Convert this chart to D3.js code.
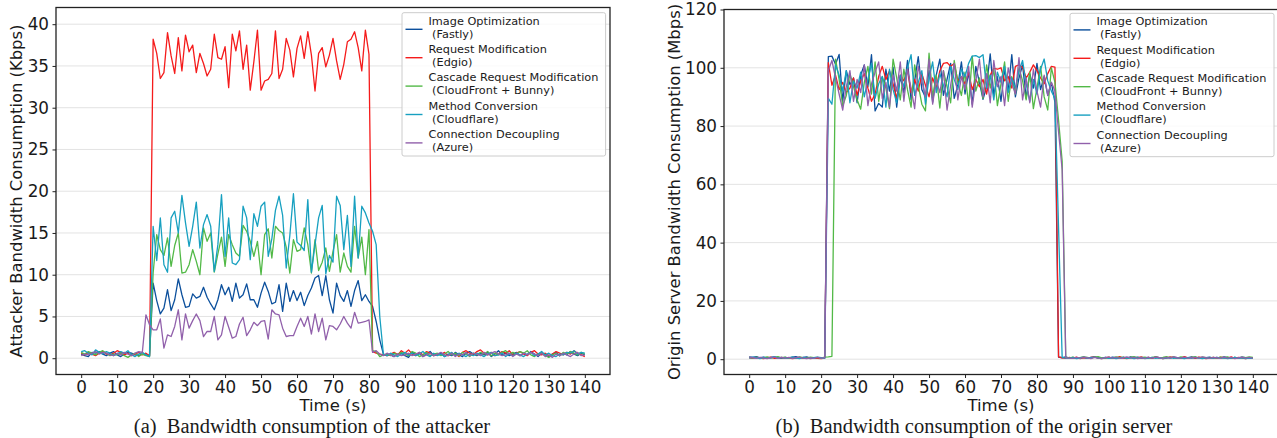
<!DOCTYPE html>
<html>
<head>
<meta charset="utf-8">
<script src="https://cdn.jsdelivr.net/npm/d3@7"></script>
<style>
  body { margin: 0; background: #fff; }
  svg text { font-family: "DejaVu Sans", sans-serif; fill: #1a1a1a; }
  .caption { font-family: "Liberation Serif", "Times New Roman", serif; white-space: pre; }
  .leg { white-space: pre; }
</style>
</head>
<body>
<svg id="chart" width="1277" height="438"></svg>
<script>
// time axis, one sample per second from 0 to 140 s
const TIME_S = d3.range(0, 141);
const X_TICKS = [0, 10, 20, 30, 40, 50, 60, 70, 80, 90, 100, 110, 120, 130, 140];
const ATK_Y_TICKS = [0, 5, 10, 15, 20, 25, 30, 35, 40];
const ORG_Y_TICKS = [0, 20, 40, 60, 80, 100, 120];

const LEGEND_LABELS = [
  ["Image Optimization", " (Fastly)"],
  ["Request Modification", " (Edgio)"],
  ["Cascade Request Modification", " (CloudFront + Bunny)"],
  ["Method Conversion", " (Cloudflare)"],
  ["Connection Decoupling", " (Azure)"]
];

// (a) attacker bandwidth, Kbps  (rows of 10 seconds)
const ATK_FASTLY = [
  0.5, 0.3, 0.2, 0.7, 0.6, 0.8, 0.5, 0.3, 0.6, 0.8,
  0.4, 0.2, 0.5, 0.7, 0.6, 0.4, 0.3, 0.5, 0.4, 0.3,
  9.0, 6.9, 5.3, 6.0, 8.2, 5.7, 7.0, 9.5, 7.6, 6.1,
  6.2, 7.7, 7.2, 7.4, 8.5, 7.3, 6.5, 5.8, 7.0, 8.8,
  7.6, 8.5, 6.8, 9.0, 7.2, 7.6, 8.9, 7.0, 7.0, 6.1,
  7.8, 9.1, 8.0, 6.5, 6.7, 8.8, 5.6, 9.0, 6.8, 8.1,
  6.9, 7.9, 6.3, 7.5, 8.4, 9.6, 9.9, 7.5, 9.9, 7.0,
  5.4, 9.0, 7.5, 6.8, 8.1, 6.2, 8.1, 9.3, 6.9, 7.6,
  6.8, 6.2, 4.4, 2.2, 0.5, 0.3, 0.4, 0.2, 0.5, 0.6,
  0.3, 0.1, 0.7, 0.4, 0.6, 0.2, 0.5, 0.8, 0.3, 0.4,
  0.6, 0.2, 0.5, 0.3, 0.7, 0.4, 0.2, 0.6, 0.8, 0.5,
  0.3, 0.6, 0.4, 0.7, 0.2, 0.5, 0.9, 0.4, 0.6, 0.3,
  0.5, 0.7, 0.3, 0.6, 0.4, 0.8, 0.5, 0.2, 0.6, 0.4,
  0.2, 0.5, 0.7, 0.3, 0.6, 0.4, 0.8, 0.5, 0.3, 0.6,
  0.4
];
const ATK_EDGIO = [
  0.6, 0.4, 0.7, 0.5, 0.3, 0.6, 0.8, 0.5, 0.4, 0.6,
  0.9, 0.7, 0.4, 0.6, 0.3, 0.5, 0.7, 0.4, 0.6, 0.3,
  38.2, 36.5, 33.5, 34.2, 39.0, 36.2, 34.1, 38.4, 34.4, 38.7,
  36.7, 37.5, 34.2, 36.5, 35.3, 33.8, 34.6, 38.8, 36.0, 35.8,
  37.3, 32.4, 38.8, 36.8, 39.2, 34.6, 37.5, 32.1, 35.5, 39.3,
  32.1, 33.2, 33.4, 34.1, 39.2, 33.5, 34.6, 38.3, 36.9, 33.7,
  37.1, 38.6, 35.9, 39.1, 36.3, 32.0, 36.5, 37.2, 34.9, 36.3,
  38.3, 35.6, 33.4, 35.2, 37.9, 38.2, 39.1, 37.2, 34.4, 39.3,
  36.4, 0.8, 0.6, 0.5, 0.4, 0.3, 0.5, 0.7, 0.4, 0.9,
  0.6, 1.0, 0.5, 0.3, 0.7, 0.4, 0.8, 0.6, 0.3, 0.5,
  0.4, 0.7, 0.3, 0.6, 0.5, 0.2, 0.7, 0.9, 0.6, 0.4,
  0.8, 1.0, 0.6, 0.4, 0.7, 0.3, 0.5, 0.8, 0.6, 0.9,
  0.4, 0.6, 0.8, 0.5, 0.3, 0.7, 0.9, 0.5, 0.4, 0.6,
  0.3, 0.5, 0.8, 0.6, 0.4, 0.7, 0.5, 0.9, 0.6, 0.4,
  0.2
];
const ATK_CASCADE = [
  0.7, 0.5, 0.8, 0.6, 0.4, 0.7, 0.9, 0.6, 0.3, 0.5,
  0.4, 0.6, 0.3, 0.1, 0.4, 0.6, 0.2, 0.5, 0.3, 0.2,
  10.2, 14.8, 13.0, 12.3, 14.4, 11.0, 13.5, 15.0, 10.2, 10.3,
  11.2, 13.0, 11.6, 10.0, 15.6, 14.0, 15.0, 10.3, 12.5, 14.5,
  11.0, 14.8, 13.6, 12.6, 12.2, 15.9, 15.2, 14.0, 12.2, 14.0,
  10.0, 14.8, 15.5, 12.0, 15.8, 15.3, 15.0, 13.3, 10.2, 14.2,
  12.8, 13.0, 15.6, 13.6, 10.2, 14.2, 10.5, 11.5, 13.2, 10.4,
  12.8, 14.8, 10.3, 12.6, 11.0, 10.3, 15.8, 12.0, 14.5, 10.0,
  15.4, 0.9, 0.8, 0.2, 0.4, 0.5, 0.3, 0.6, 0.4, 0.7,
  0.5, 0.3, 0.8, 0.6, 0.2, 0.4, 0.7, 0.3, 0.5, 0.6,
  0.3, 0.5, 0.8, 0.4, 0.6, 0.3, 0.7, 0.5, 0.2, 0.6,
  0.4, 0.7, 0.5, 0.8, 0.3, 0.6, 0.4, 0.7, 0.9, 0.5,
  0.7, 0.5, 0.8, 0.6, 0.9, 0.4, 0.2, 0.5, 0.7, 0.3,
  0.1, 0.4, 0.6, 0.3, 0.7, 0.5, 0.8, 0.6, 0.4, 0.7,
  0.5
];
const ATK_CLOUDFLARE = [
  0.8, 0.9, 0.6, 0.4, 1.0, 0.7, 0.5, 0.8, 0.6, 0.3,
  0.5, 0.8, 0.6, 0.9, 0.4, 0.2, 0.5, 0.7, 0.4, 0.2,
  15.8, 11.7, 16.8, 11.2, 10.3, 16.8, 17.6, 15.0, 19.5, 16.2,
  13.4, 15.8, 18.7, 13.2, 16.0, 17.2, 15.8, 10.4, 13.6, 19.6,
  12.2, 16.8, 11.4, 11.2, 11.8, 18.2, 16.8, 11.8, 17.3, 15.8,
  18.2, 18.7, 12.2, 14.3, 17.7, 19.4, 17.1, 10.8, 14.7, 19.7,
  13.9, 13.5, 12.9, 19.0, 10.3, 13.6, 16.8, 18.3, 10.1, 12.3,
  11.5, 19.4, 18.3, 13.0, 17.1, 11.0, 19.4, 12.0, 18.2, 17.4,
  16.2, 15.2, 13.6, 5.0, 0.5, 0.3, 0.6, 0.4, 0.2, 0.5,
  0.7, 0.4, 0.6, 0.3, 0.5, 0.8, 0.4, 0.2, 0.6, 0.3,
  0.5, 0.2, 0.4, 0.7, 0.3, 0.6, 0.4, 0.2, 0.5, 0.3,
  0.6, 0.4, 0.2, 0.5, 0.7, 0.3, 0.4, 0.6, 0.2, 0.5,
  0.3, 0.6, 0.4, 0.2, 0.5, 0.7, 0.3, 0.5, 0.8, 0.4,
  0.6, 0.3, 0.2, 0.5, 0.4, 0.7, 0.6, 0.9, 0.5, 0.7,
  0.6
];
const ATK_AZURE = [
  0.3, 0.5, 0.4, 0.6, 0.8, 0.5, 0.7, 0.6, 0.4, 0.3,
  0.6, 0.4, 0.7, 0.5, 0.3, 0.6, 0.8, 0.7, 5.2, 4.0,
  3.4, 3.4, 4.7, 1.2, 2.8, 2.6, 3.8, 5.8, 2.2, 5.3,
  3.6, 4.5, 5.3, 4.5, 2.6, 3.2, 3.2, 5.0, 2.2, 2.8,
  5.0, 3.7, 2.4, 2.6, 4.1, 4.9, 2.7, 3.4, 4.3, 3.9,
  4.4, 4.5, 2.3, 5.8, 5.3, 5.2, 3.6, 2.6, 2.7, 2.7,
  3.8, 4.8, 3.8, 5.0, 2.9, 5.3, 3.2, 4.8, 2.2, 3.9,
  3.8, 3.4, 4.1, 5.0, 4.2, 3.6, 5.5, 4.2, 4.3, 4.4,
  4.6, 0.7, 0.9, 0.5, 0.3, 0.6, 0.4, 0.2, 0.5, 0.3,
  0.4, 0.6, 0.3, 0.5, 0.7, 0.2, 0.4, 0.6, 0.3, 0.5,
  0.7, 0.4, 0.3, 0.6, 0.2, 0.5, 0.4, 0.7, 0.3, 0.6,
  0.5, 0.3, 0.7, 0.4, 0.6, 0.8, 0.5, 0.3, 0.4, 0.6,
  0.2, 0.5, 0.3, 0.6, 0.4, 0.7, 0.5, 0.3, 0.6, 0.2,
  0.4, 0.1, 0.5, 0.3, 0.6, 0.4, 0.2, 0.5, 0.7, 0.3,
  0.4
];

// (b) origin server bandwidth, Mbps  (rows of 10 seconds)
const ORG_FASTLY = [
  0.8, 0.6, 0.9, 0.5, 0.7, 0.4, 0.6, 0.8, 0.5, 0.3,
  0.6, 0.4, 0.7, 0.9, 0.5, 0.6, 0.8, 0.4, 0.3, 0.5,
  0.4, 0.6, 103.8, 104.0, 101.2, 104.6, 88.5, 99.0, 94.2, 96.5,
  88.0, 97.5, 101.0, 93.5, 104.5, 85.2, 87.8, 86.5, 99.5, 92.0,
  100.2, 86.5, 97.0, 91.5, 102.5, 89.0, 95.5, 103.8, 92.5, 90.0,
  99.0, 88.2, 97.5, 103.0, 90.5, 96.0, 101.5, 89.5, 94.0, 102.0,
  91.0, 98.5, 87.5, 100.5, 95.0, 89.2, 93.5, 104.8, 90.5, 97.0,
  88.5, 99.5, 92.0, 104.5, 90.0, 96.5, 101.0, 89.5, 98.0, 93.0,
  101.5, 92.5, 97.0, 90.5, 95.0, 88.0, 0.7, 0.5, 0.8, 0.4,
  0.6, 0.3, 0.5, 0.7, 0.4, 0.6, 0.8, 0.5, 0.3, 0.6,
  0.4, 0.7, 0.5, 0.3, 0.6, 0.4, 0.8, 0.5, 0.7, 0.3,
  0.5, 0.6, 0.4, 0.8, 0.5, 0.3, 0.6, 0.4, 0.7, 0.5,
  0.3, 0.6, 0.5, 0.8, 0.4, 0.6, 0.3, 0.5, 0.7, 0.4,
  0.6, 0.4, 0.8, 0.5, 0.3, 0.6, 0.4, 0.7, 0.5, 0.3,
  0.5
];
const ORG_EDGIO = [
  0.5, 0.3, 0.6, 0.4, 0.2, 0.5, 0.7, 0.3, 0.4, 0.6,
  0.3, 0.5, 0.2, 0.4, 0.6, 0.3, 0.5, 0.2, 0.4, 0.3,
  0.2, 0.4, 101.8, 94.0, 97.5, 92.5, 95.0, 91.5, 93.0, 96.5,
  90.5, 95.5, 98.0, 93.0, 88.5, 91.0, 97.0, 100.5, 96.0, 99.0,
  94.5, 89.5, 97.5, 95.5, 99.5, 91.5, 96.0, 92.0, 98.0, 94.0,
  90.0, 96.5, 93.0, 99.0, 101.5, 101.8, 100.5, 101.5, 95.5, 97.0,
  94.5, 98.5, 92.5, 96.0, 93.5, 96.0, 91.0, 97.5, 99.8, 99.5,
  100.0, 95.5, 97.0, 93.0, 100.5, 101.0, 100.2, 96.5, 98.5, 101.0,
  99.0, 96.5, 94.5, 98.0, 100.5, 100.2, 0.8, 0.5, 0.3, 0.6,
  0.4, 0.7, 0.2, 0.5, 0.3, 0.6, 0.8, 0.4, 0.2, 0.5,
  0.7, 0.3, 0.5, 0.9, 0.4, 0.2, 0.6, 0.3, 0.5, 0.8,
  0.4, 0.6, 0.3, 0.7, 0.5, 0.2, 0.4, 0.8, 0.6, 0.3,
  0.5, 0.9, 0.4, 0.6, 0.3, 0.7, 0.5, 0.2, 0.4, 0.6,
  0.3, 0.7, 0.5, 0.4, 0.8, 0.3, 0.6, 0.4, 0.2, 0.5,
  0.3
];
const ORG_CASCADE = [
  0.6, 0.4, 0.7, 0.3, 0.5, 0.8, 0.4, 0.6, 0.9, 0.5,
  0.7, 0.4, 0.6, 0.3, 0.8, 0.5, 0.4, 0.7, 0.5, 0.6,
  0.4, 0.7, 0.8, 1.0, 103.0, 96.0, 87.0, 90.5, 98.0, 93.5,
  89.0, 85.8, 95.0, 100.5, 91.0, 102.0, 88.5, 97.0, 93.0, 86.0,
  103.0, 96.5, 89.0, 99.5, 92.5, 86.5, 101.0, 94.0, 87.5, 85.2,
  105.0, 90.0, 97.5, 86.2, 99.0, 93.5, 88.0, 102.5, 95.0, 90.5,
  98.5, 87.0, 104.0, 92.0, 96.5, 89.5, 101.0, 93.0, 99.5, 87.0,
  94.5, 102.0, 88.5, 97.0, 91.0, 100.0, 95.5, 89.0, 98.5, 86.0,
  93.0, 100.5, 90.0, 85.5, 100.0, 95.0, 82.0, 68.0, 0.6, 0.4,
  0.7, 0.3, 0.5, 0.8, 0.6, 0.4, 0.7, 0.9, 0.5, 0.3,
  0.6, 0.4, 0.8, 0.5, 0.7, 0.3, 0.6, 0.9, 0.4, 0.5,
  0.7, 0.3, 0.6, 0.8, 0.4, 0.6, 0.9, 0.5, 0.7, 0.4,
  0.8, 0.5, 0.3, 0.6, 0.9, 0.4, 0.7, 0.5, 0.3, 0.6,
  0.4, 0.7, 0.5, 0.8, 0.3, 0.6, 0.4, 0.7, 0.5, 0.8,
  0.6
];
const ORG_CLOUDFLARE = [
  0.4, 0.7, 0.5, 0.2, 0.6, 0.3, 0.5, 0.8, 0.4, 0.6,
  0.3, 0.5, 0.7, 0.4, 0.2, 0.6, 0.4, 0.3, 0.5, 0.7,
  0.5, 0.3, 89.5, 87.5, 101.0, 97.5, 92.0, 99.0, 88.0, 95.5,
  93.0, 98.5, 90.0, 96.0, 101.5, 89.5, 94.5, 97.0, 86.5, 99.5,
  92.5, 88.0, 97.5, 93.5, 100.0, 104.5, 90.5, 95.0, 99.0, 87.5,
  96.5, 102.0, 91.5, 98.0, 94.0, 90.0, 100.5, 96.0, 92.5, 99.5,
  97.0, 101.5, 104.0, 104.2, 103.5, 104.5, 93.0, 97.5, 89.0, 98.5,
  95.0, 100.5, 91.5, 96.5, 93.0, 99.0, 102.5, 94.5, 88.5, 96.0,
  91.0, 99.5, 103.0, 95.5, 92.0, 89.5, 45.0, 0.6, 0.4, 0.3,
  0.5, 0.2, 0.4, 0.6, 0.3, 0.5, 0.7, 0.4, 0.2, 0.6,
  0.3, 0.5, 0.2, 0.4, 0.6, 0.3, 0.5, 0.2, 0.4, 0.6,
  0.2, 0.4, 0.6, 0.3, 0.5, 0.2, 0.4, 0.6, 0.3, 0.5,
  0.4, 0.2, 0.5, 0.3, 0.6, 0.4, 0.2, 0.5, 0.3, 0.4,
  0.6, 0.3, 0.5, 0.2, 0.4, 0.6, 0.3, 0.5, 0.2, 0.4,
  0.3
];
const ORG_AZURE = [
  0.7, 0.5, 0.3, 0.6, 0.4, 0.2, 0.5, 0.7, 0.3, 0.6,
  0.4, 0.6, 0.3, 0.5, 0.7, 0.4, 0.2, 0.5, 0.3, 0.6,
  0.4, 0.5, 99.0, 102.5, 96.5, 91.0, 85.5, 93.5, 99.0, 88.5,
  96.0, 91.5, 101.0, 87.0, 94.5, 98.5, 102.0, 89.5, 95.0, 86.5,
  97.5, 92.0, 102.0, 88.5, 99.5, 93.0, 86.0, 100.5, 95.5, 90.0,
  103.0, 87.5, 96.0, 91.5, 99.0, 85.5, 94.0, 101.5, 89.0, 97.0,
  92.5, 100.5, 86.5, 95.5, 103.0, 90.0, 98.0, 88.0, 102.5, 93.5,
  97.0, 87.0, 100.0, 94.5, 91.0, 103.5, 89.0, 96.5, 88.0, 99.5,
  92.0, 86.5, 97.5, 90.5, 95.0, 92.0, 78.0, 65.0, 0.5, 0.4,
  0.3, 0.6, 0.4, 0.7, 0.5, 0.2, 0.6, 0.4, 0.3, 0.5,
  0.7, 0.4, 0.6, 0.3, 0.5, 0.8, 0.4, 0.6, 0.2, 0.5,
  0.3, 0.6, 0.4, 0.7, 0.5, 0.3, 0.6, 0.4, 0.8, 0.5,
  0.4, 0.7, 0.3, 0.5, 0.6, 0.4, 0.8, 0.5, 0.3, 0.6,
  0.5, 0.3, 0.7, 0.4, 0.6, 0.2, 0.5, 0.7, 0.4, 0.6,
  0.4
];

const SERIES_COLORS = ["#0b4f9c", "#f51b1b", "#52b947", "#17a0c0", "#9160ab"];
const X_DOMAIN = [-7, 147];

const SVG = d3.select("#chart");

// layout of both subfigures
const PANELS = [
  {
    left: 56, right: 610, top: 7.5, bottom: 374.5,
    yDomain: [-1.95, 42], yTicks: ATK_Y_TICKS,
    series: [ATK_FASTLY, ATK_EDGIO, ATK_CASCADE, ATK_CLOUDFLARE, ATK_AZURE],
    ylabel: "Attacker Bandwidth Consumption (Kbps)", ylabelX: 22,
    caption: "(a)  Bandwidth consumption of the attacker", captionX: 312,
    legend: {x: 402, y: 12.7, w: 203.6, h: 143.3}
  },
  {
    left: 724, right: 1278, top: 9.5, bottom: 374.5,
    yDomain: [-5.25, 120], yTicks: ORG_Y_TICKS,
    series: [ORG_FASTLY, ORG_EDGIO, ORG_CASCADE, ORG_CLOUDFLARE, ORG_AZURE],
    ylabel: "Origin Server Bandwidth Consumption (Mbps)", ylabelX: 680,
    caption: "(b)  Bandwidth consumption of the origin server", captionX: 974,
    legend: {x: 1070, y: 13.3, w: 204, h: 143.4}
  }
];

function drawPanel(p) {
  const x = d3.scaleLinear().domain(X_DOMAIN).range([p.left, p.right]);
  const y = d3.scaleLinear().domain(p.yDomain).range([p.bottom, p.top]);
  const g = SVG.append("g");

  // horizontal grid
  g.selectAll(".grid")
    .data(p.yTicks)
    .enter()
    .append("line")
      .attr("x1", p.left).attr("x2", p.right)
      .attr("y1", d => y(d)).attr("y2", d => y(d))
      .attr("stroke", "#e3e3e3")
      .attr("stroke-width", 1);

  const line = d3.line()
    .x((d, i) => x(TIME_S[i]))
    .y(d => y(d));

  p.series.forEach((s, k) => {
    g.append("path")
      .datum(s)
      .attr("d", line)
      .attr("fill", "none")
      .attr("stroke", SERIES_COLORS[k])
      .attr("stroke-width", 1.3)
      .attr("stroke-linejoin", "round");
  });

  // frame
  g.append("rect")
    .attr("x", p.left).attr("y", p.top)
    .attr("width", p.right - p.left).attr("height", p.bottom - p.top)
    .attr("fill", "none")
    .attr("stroke", "#222")
    .attr("stroke-width", 1.3);

  const xAxis = g.append("g")
    .attr("transform", "translate(0," + p.bottom + ")")
    .call(d3.axisBottom(x).tickValues(X_TICKS).tickSize(3.5).tickPadding(3.5));
  const yAxis = g.append("g")
    .attr("transform", "translate(" + p.left + ",0)")
    .call(d3.axisLeft(y).tickValues(p.yTicks).tickSize(3.5).tickPadding(3.5));

  [xAxis, yAxis].forEach(a => {
    a.select(".domain").remove();
    a.attr("font-size", null).attr("font-family", null);
    a.selectAll("line").attr("stroke", "#222").attr("stroke-width", 1);
    a.selectAll("text").style("font-size", "16.8px");
  });

  // axis titles
  g.append("text")
    .attr("x", (p.left + p.right) / 2)
    .attr("y", 410.5)
    .attr("text-anchor", "middle")
    .style("font-size", "16.5px")
    .text("Time (s)");

  g.append("text")
    .attr("transform", "translate(" + p.ylabelX + "," + ((p.top + p.bottom) / 2) + ") rotate(-90)")
    .attr("text-anchor", "middle")
    .style("font-size", "16.4px")
    .text(p.ylabel);

  // subfigure caption
  g.append("text")
    .attr("class", "caption")
    .attr("x", p.captionX)
    .attr("y", 432.5)
    .attr("text-anchor", "middle")
    .style("font-size", "20.5px")
    .text(p.caption);

  drawLegend(p.legend);
}

function drawLegend(L) {
  const g = SVG.append("g");
  g.append("rect")
    .attr("x", L.x).attr("y", L.y)
    .attr("width", L.w).attr("height", L.h)
    .attr("rx", 2)
    .attr("fill", "#fff").attr("fill-opacity", 0.8)
    .attr("stroke", "#cccccc");

  const STEP = 28.4;
  LEGEND_LABELS.forEach((lab, i) => {
    const base = L.y + 11.8 + i * STEP;
    g.append("line")
      .attr("x1", L.x + 3.5).attr("x2", L.x + 20.5)
      .attr("y1", base + 4.8).attr("y2", base + 4.8)
      .attr("stroke", SERIES_COLORS[i])
      .attr("stroke-width", 1.4);
    const t = g.append("text")
      .attr("class", "leg")
      .style("font-size", "11.3px");
    t.append("tspan").attr("x", L.x + 26.5).attr("y", base).text(lab[0]);
    t.append("tspan").attr("x", L.x + 26.5).attr("y", base + 13).text(lab[1]);
  });
}

PANELS.forEach(drawPanel);
</script>
</body>
</html>
